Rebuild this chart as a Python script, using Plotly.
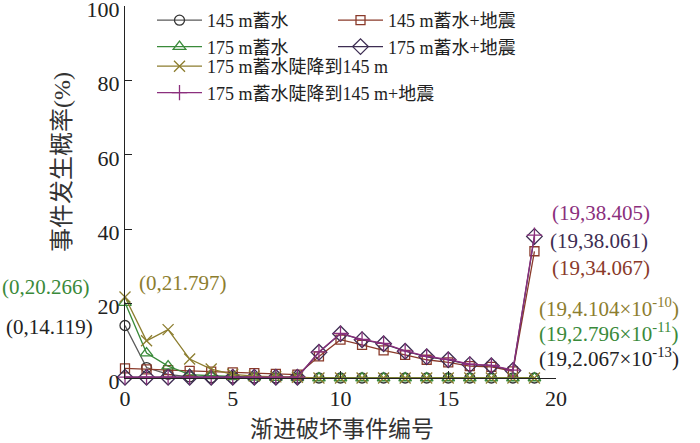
import plotly.graph_objects as go

# event index on the x axis
events = list(range(20))

# probability of each progressive-failure event (%)
p145 = [14.119, 2.8, 1.0, 0.3, 0.1, 0.05, 0.02, 0.01, 0.0, 0.0,
        0.0, 0.0, 0.0, 0.0, 0.0, 0.0, 0.0, 0.0, 0.0, 2.067e-13]
p145_eq = [2.6, 2.3, 2.1, 1.9, 1.7, 1.5, 1.3, 1.1, 0.9, 5.8,
           10.3, 8.9, 7.4, 6.2, 4.9, 4.2, 3.2, 3.0, 1.8, 34.067]
p175 = [20.266, 6.7, 3.2, 0.9, 0.6, 0.3, 0.2, 0.1, 0.05, 0.0,
        0.0, 0.0, 0.0, 0.0, 0.0, 0.0, 0.0, 0.0, 0.0, 2.796e-11]
p175_eq = [0.2, 0.2, 0.2, 0.2, 0.2, 0.2, 0.2, 0.2, 0.2, 6.9,
           11.9, 10.3, 9.2, 7.2, 5.7, 4.9, 3.6, 3.3, 2.0, 38.061]
p_drop = [21.797, 10.0, 13.0, 5.1, 2.4, 1.0, 0.5, 0.3, 0.2, 0.0,
          0.0, 0.0, 0.0, 0.0, 0.0, 0.0, 0.0, 0.0, 0.0, 4.104e-10]
p_drop_eq = [0.25, 0.25, 0.25, 0.25, 0.25, 0.25, 0.25, 0.25, 0.25, 7.0,
             12.0, 10.4, 9.3, 7.3, 5.8, 5.0, 3.7, 3.4, 2.1, 38.405]

names = ['145 m蓄水', '145 m蓄水+地震', '175 m蓄水', '175 m蓄水+地震',
         '175 m蓄水陡降到145 m', '175 m蓄水陡降到145 m+地震']

# value labels at the first and last event
end_labels = ['(19,38.405)', '(19,38.061)', '(19,34.067)',
              '(19,4.104×10<sup>-10</sup>)', '(19,2.796×10<sup>-11</sup>)',
              '(19,2.067×10<sup>-13</sup>)']
start_labels = ['(0,20.266)', '(0,14.119)', '(0,21.797)']

FONT = 'Liberation Serif, Noto Sans CJK SC'
BLACK = '#333333'
BROWN = '#8a3a2a'
GREEN = '#3a8a3a'
DARK = '#3d2d52'
OLIVE = '#8c7d2e'
MAGENTA = '#8b2f7d'

# legend: first column / second column / two long entries below
series = [
  (p145, names[0], 'circle-open', BLACK, '#5a5a5a', 10, 'legend'),
  (p145_eq, names[1], 'square-open', BROWN, BROWN, 9, 'legend2'),
  (p175, names[2], 'triangle-up-open', GREEN, GREEN, 11, 'legend'),
  (p175_eq, names[3], 'diamond-open', DARK, DARK, 12, 'legend2'),
  (p_drop, names[4], 'x-thin', OLIVE, OLIVE, 11, 'legend3'),
  (p_drop_eq, names[5], 'cross-thin', MAGENTA, MAGENTA, 11, 'legend3'),
]

fig = go.Figure()
for vals, name, sym, mcol, lcol, size, leg in series:
  fig.add_trace(go.Scatter(
    x=events, y=vals, name=name, mode='lines+markers',
    line=dict(color=lcol, width=1.3),
    marker=dict(symbol=sym, size=size, color=mcol, line=dict(color=mcol, width=1.3)),
    cliponaxis=False,
    legend=leg,
  ))

def px_x(px):
  return (px - 125) / 431

def px_y(py):
  return (378 - py) / 372

annotations = []
for txt, py, col, px in zip(end_labels, [213, 241, 268, 307, 332, 357],
                            [MAGENTA, DARK, BROWN, OLIVE, GREEN, '#222222'],
                            [550, 548, 550, 537, 537, 537]):
  annotations.append(dict(x=px_x(px), y=px_y(py), xref='paper', yref='paper', text=txt,
                          showarrow=False, xanchor='left', yanchor='middle',
                          font=dict(color=col, size=21, family=FONT)))
for txt, px, py, col in zip(start_labels, [46, 49, 183], [287, 327, 283],
                            [GREEN, '#222222', OLIVE]):
  annotations.append(dict(x=px_x(px), y=px_y(py), xref='paper', yref='paper', text=txt,
                          showarrow=False, xanchor='center', yanchor='middle',
                          font=dict(color=col, size=21, family=FONT)))

annotations.append(dict(x=px_x(62), y=px_y(162), xref='paper', yref='paper', text='事件发生概率(%)',
                        textangle=-90, showarrow=False, xanchor='center', yanchor='middle',
                        font=dict(size=24, color='#333333', family=FONT)))
annotations.append(dict(x=px_x(342), y=px_y(429), xref='paper', yref='paper', text='渐进破坏事件编号',
                        showarrow=False, xanchor='center', yanchor='middle',
                        font=dict(size=23, color='#333333', family=FONT)))

leg_common = dict(orientation='v', xanchor='left', yanchor='top', font=dict(size=18),
                  bgcolor='rgba(0,0,0,0)', tracegroupgap=0, itemwidth=45)

fig.update_layout(
  width=700, height=443,
  margin=dict(l=125, r=144, t=6, b=65, autoexpand=False),
  paper_bgcolor='white', plot_bgcolor='white',
  font=dict(family=FONT, size=22, color='#222222'),
  showlegend=True,
  legend=dict(x=px_x(152), y=px_y(2), **leg_common),
  legend2=dict(x=px_x(333), y=px_y(2), **leg_common),
  legend3=dict(x=px_x(152), y=px_y(48), **leg_common),
  annotations=annotations,
)

fig.update_xaxes(range=[0, 20], tickvals=[0, 5, 10, 15, 20], showline=True, linecolor='#222222',
                 linewidth=1.3, ticks='inside', ticklen=7, tickcolor='#222222',
                 showgrid=False, zeroline=False, ticklabeloverflow='allow')
fig.update_yaxes(range=[0, 100], tickvals=[0, 20, 40, 60, 80, 100], showline=True,
                 linecolor='#222222', linewidth=1.3, ticks='inside', ticklen=7,
                 tickcolor='#222222', showgrid=False, zeroline=False,
                 ticklabeloverflow='allow', ticklabelshift=3)

# the page's default body margin would push the figure 8px off the window
fig.write_html("out.html", config={'displayModeBar': False},
               post_script="document.body.style.margin='0px';")
